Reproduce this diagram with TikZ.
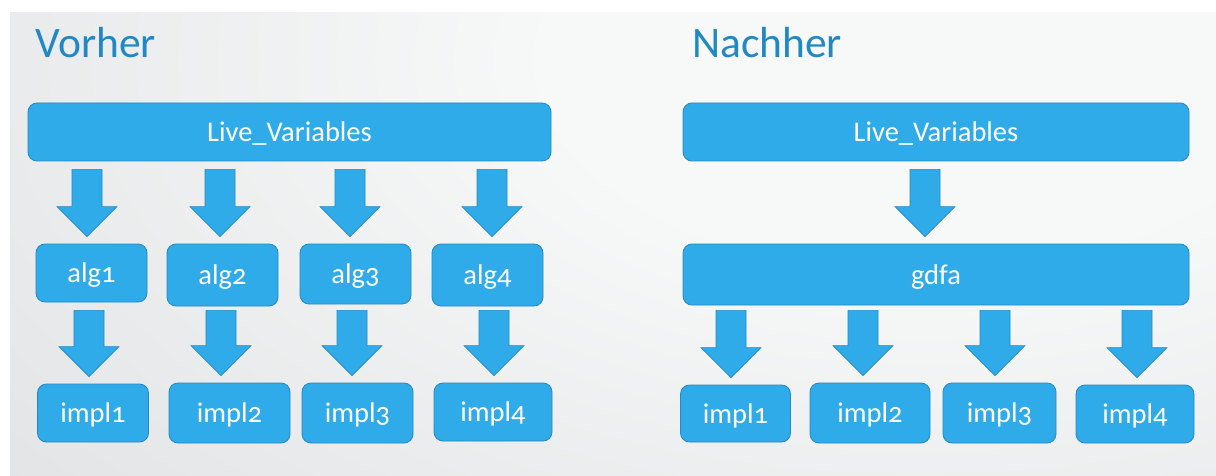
\documentclass[tikz,border=0pt]{standalone}
\usepackage{fontspec}
\setmainfont{Carlito}[Numbers=OldStyle]
\usetikzlibrary{calc}
\definecolor{boxfill}{RGB}{48,171,233}
\definecolor{boxline}{RGB}{36,136,196}
\definecolor{titleblue}{RGB}{33,136,197}
\definecolor{bgin}{RGB}{247,248,248}
\definecolor{bgout}{RGB}{198,201,204}
\pgfdeclareradialshading{bgshade}{\pgfpoint{0bp}{0bp}}{color(0bp)=(bgin); color(6.4bp)=(bgin); color(40bp)=(bgout); color(100bp)=(bgout)}
\tikzset{
  box/.style={draw=boxline, line width=0.8pt, fill=boxfill, rounded corners=9pt,
    text=white, font=\fontsize{28.5}{30}\selectfont, inner sep=0pt,
    text height=19pt, text depth=0pt, align=center},
  arrowsty/.style={draw=boxline, line width=0.6pt, fill=boxfill, line join=miter},
  title/.style={text=titleblue, font=\fontsize{43.5}{46}\selectfont, inner sep=0pt, anchor=base west}
}
% block arrow: x position, source node, target node
\newcommand\dnarrow[3]{%
  \filldraw[arrowsty] let \p1=(#2.south), \p2=(#3.north) in
    (#1pt-15pt,\y1-8pt) -- (#1pt+15pt,\y1-8pt) -- (#1pt+15pt,\y2+37pt)
    -- (#1pt+30pt,\y2+37pt) -- (#1pt,\y2+7pt) -- (#1pt-30pt,\y2+37pt)
    -- (#1pt-15pt,\y2+37pt) -- cycle;}
\begin{document}
\begin{tikzpicture}[x=1pt,y=-1pt]
\useasboundingbox (0,0) rectangle (1216,476);
\fill[white] (0,0) rectangle (1216,476);
\begin{scope}
  \clip (10,13) rectangle (1216,476);
  \shade[shading=bgshade] (920,60) ellipse [x radius=1437pt, y radius=800pt];
\end{scope}

\node[title] (vorher) at (35,58) {Vorher};
\node[title] (nachher) at (692,58) {Nachher};

% left: Vorher
\node[box, minimum width=523pt, minimum height=58pt] (lvL) at (289.5,132) {Live\_Variables};
\node[box, minimum width=111pt, minimum height=58pt] (alg1) at (91.5,273) {alg1};
\node[box, minimum width=111pt, minimum height=62pt] (alg2) at (222.5,275) {alg2};
\node[box, minimum width=111pt, minimum height=60pt] (alg3) at (355.5,274) {alg3};
\node[box, minimum width=111pt, minimum height=62pt] (alg4) at (487.5,275) {alg4};
\node[box, minimum width=111pt, minimum height=58pt] (impl1) at (93,413) {impl1};
\node[box, minimum width=121pt, minimum height=60pt] (impl2) at (229.5,413) {impl2};
\node[box, minimum width=111pt, minimum height=60pt] (impl3) at (357.5,413) {impl3};
\node[box, minimum width=118pt, minimum height=58pt] (impl4) at (493,412) {impl4};

\dnarrow{87}{lvL}{alg1}
\dnarrow{220}{lvL}{alg2}
\dnarrow{350}{lvL}{alg3}
\dnarrow{492}{lvL}{alg4}
\dnarrow{89}{alg1}{impl1}
\dnarrow{221}{alg1}{impl2}
\dnarrow{352}{alg1}{impl3}
\dnarrow{494}{alg1}{impl4}

% right: Nachher
\node[box, minimum width=506pt, minimum height=58pt] (lvR) at (936,132) {Live\_Variables};
\node[box, minimum width=506pt, minimum height=61pt] (gdfa) at (936,274.5) {gdfa};
\node[box, minimum width=110pt, minimum height=57pt] (rimpl1) at (735.5,413.5) {impl1};
\node[box, minimum width=120pt, minimum height=60pt] (rimpl2) at (870,413) {impl2};
\node[box, minimum width=113pt, minimum height=60pt] (rimpl3) at (999.5,413) {impl3};
\node[box, minimum width=118pt, minimum height=58pt] (rimpl4) at (1135,414) {impl4};

\dnarrow{925}{lvR}{gdfa}
\dnarrow{731}{alg1}{rimpl1}
\dnarrow{863}{alg1}{rimpl2}
\dnarrow{995}{alg1}{rimpl3}
\dnarrow{1137}{alg1}{rimpl4}
\end{tikzpicture}
\end{document}
